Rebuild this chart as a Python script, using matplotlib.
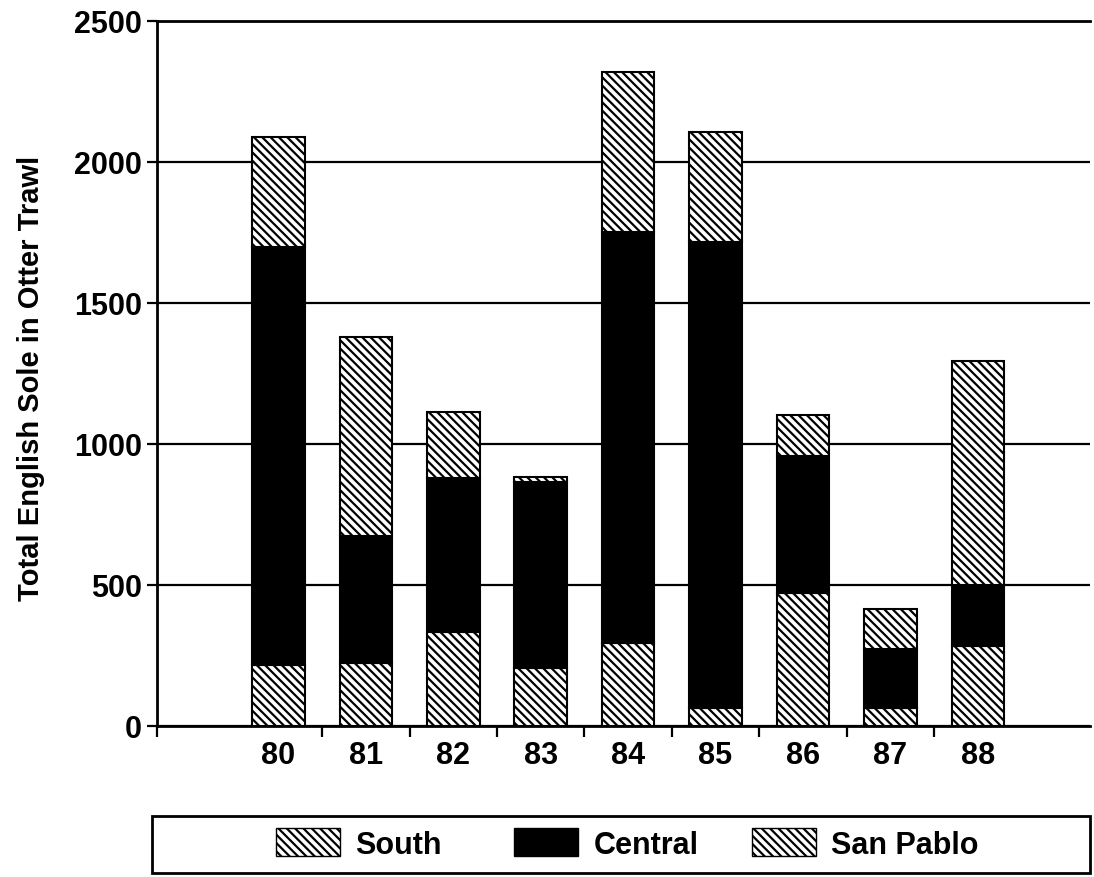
import matplotlib
matplotlib.use("Agg")
import matplotlib.pyplot as plt
from matplotlib.patches import Patch, Rectangle
import numpy as np

plt.rcParams["font.family"] = ["Liberation Sans", "DejaVu Sans"]
plt.rcParams["font.weight"] = "bold"
plt.rcParams["axes.labelweight"] = "bold"
plt.rcParams["hatch.linewidth"] = 1.6
plt.rcParams["hatch.color"] = "black"

# Data
years = ["80", "81", "82", "83", "84", "85", "86", "87", "88"]
south = [215, 225, 335, 205, 295, 65, 470, 65, 285]
central = [1485, 450, 545, 660, 1457, 1651, 486, 208, 216]
san_pablo = [388, 704, 233, 19, 567, 390, 148, 142, 794]
series_names = ["South", "Central", "San Pablo"]

x = np.arange(len(years))
south_a = np.array(south)
central_a = np.array(central)

W, H = 1094, 878
fig = plt.figure(figsize=(W / 100, H / 100), dpi=100)
ax = fig.add_axes([0.1435, 0.172, 0.8525, 0.803])

HATCH = "\\\\\\\\"
width = 0.6
ax.bar(x, south, width, color="white", edgecolor="black", hatch=HATCH, linewidth=1.5, zorder=3)
ax.bar(x, central, width, bottom=south_a, color="black", edgecolor="black", linewidth=1.5, zorder=3)
ax.bar(x, san_pablo, width, bottom=south_a + central_a, color="white", edgecolor="black",
       hatch=HATCH, linewidth=1.5, zorder=3)

ax.set_xlim(-1.39, 9.28)
ax.set_ylim(0, 2500)
ax.set_yticks([0, 500, 1000, 1500, 2000, 2500])
ax.yaxis.grid(True, color="black", linewidth=1.6)
ax.set_axisbelow(True)

ax.set_xticks(x)
ax.set_xticklabels(years)
ax.set_xticks(np.concatenate([[-1.39], x[:-1] + 0.5]), minor=True)
ax.tick_params(axis="x", which="major", length=0, pad=10, labelsize=22)
ax.tick_params(axis="x", which="minor", length=8, width=1.6, direction="out")
ax.tick_params(axis="y", length=7, width=1.6, direction="out", labelsize=22, pad=4)

for side in ["left", "bottom", "top"]:
    ax.spines[side].set_linewidth(2.0)
ax.spines["right"].set_visible(False)

ax.set_ylabel("Total English Sole in Otter Trawl", fontsize=21, fontweight="bold")
ax.yaxis.set_label_coords(-0.12, 0.494)

# Legend box below the chart, entries on an even grid like the original
fig.patches.append(Rectangle((0.139, 0.004), 0.857, 0.066, transform=fig.transFigure,
                             fill=False, edgecolor="black", linewidth=2.0))
handles = [
    Patch(facecolor="white", edgecolor="black", hatch=HATCH, linewidth=1.0),
    Patch(facecolor="black", edgecolor="black"),
    Patch(facecolor="white", edgecolor="black", hatch=HATCH, linewidth=1.0),
]
entry_left_px = [276, 514, 752]
for handle, name, left in zip(handles, series_names, entry_left_px):
    fig.legend([handle], [name], loc="center left", bbox_to_anchor=(left / W, 1 - 845 / H),
               frameon=False, fontsize=22, handlelength=2.1, handleheight=1.0,
               handletextpad=0.5, borderpad=0, borderaxespad=0)

fig.savefig("out.png", dpi=100)
